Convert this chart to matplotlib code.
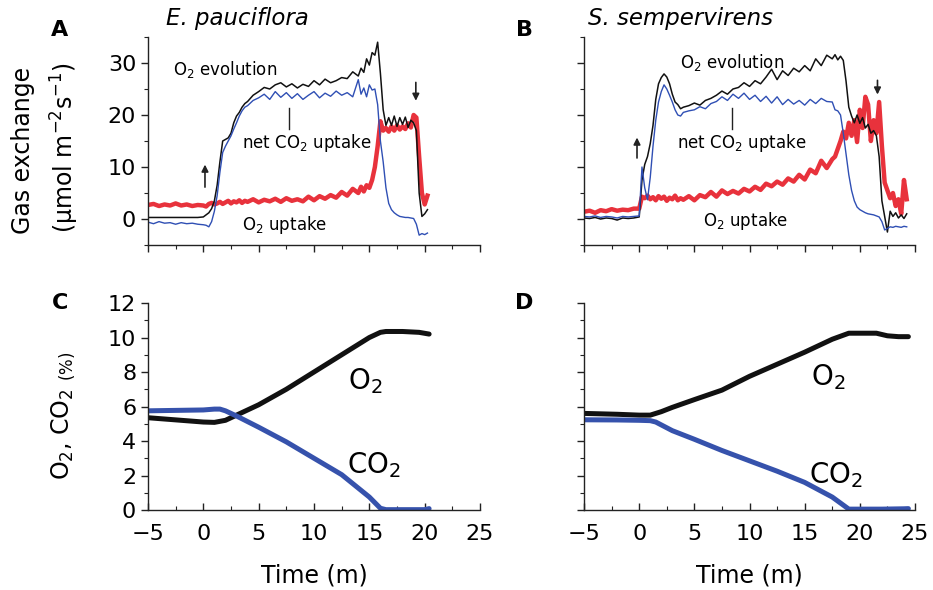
import matplotlib
matplotlib.use('Agg')
import matplotlib.pyplot as plt
from matplotlib.ticker import MultipleLocator

'''
Gas exchange traces (A, B) and chamber O2 / CO2 (C, D)
for E. pauciflora and S. sempervirens
'''

plt.rcParams['font.family'] = ['DejaVu Sans']
plt.rcParams['mathtext.fontset'] = 'dejavusans'
plt.rcParams['mathtext.default'] = 'regular'

BLACK = '#111111'
BLUE = '#2f4fb4'
RED = '#e8323c'
BLUE_THICK = '#3652ac'

# ---- panel A: E. pauciflora gas exchange ----
t_a = [-5, -4.5, -4, -3.5, -3, -2.5, -2, -1.5, -1, -0.5, 0,
       0.25, 0.5, 0.75, 1, 1.25, 1.5, 1.75, 2, 2.25, 2.5, 2.75, 3, 3.25, 3.5, 3.75, 4,
       4.5, 5, 5.5, 6, 6.5, 7, 7.5, 8, 8.5, 9, 9.5, 10, 10.5, 11, 11.5, 12, 12.5, 13, 13.5, 14,
       14.25, 14.5, 14.75, 15, 15.25, 15.5, 15.75, 16, 16.25, 16.5, 16.75, 17, 17.25, 17.5,
       17.75, 18, 18.25, 18.5, 18.75, 19, 19.25, 19.5, 19.75, 20, 20.25]
o2_evo_a = [0.3, 0.3, 0.3, 0.3, 0.3, 0.3, 0.3, 0.3, 0.3, 0.3, 0.4,
            0.8, 1.2, 2.0, 3.5, 6.5, 11.0, 15.0, 15.3, 15.6, 16.5, 18.5, 19.8, 20.5, 21.5, 22.2, 22.6,
            23.8, 24.5, 25.3, 25.0, 25.8, 26.2, 25.4, 26.0, 25.2, 25.9, 25.5, 26.6, 25.8, 26.9, 26.2,
            26.6, 27.2, 27.0, 28.3, 27.5,
            29.0, 28.2, 30.8, 29.6, 32.0, 31.5, 34.0, 28.0, 21.0, 18.0, 19.5, 18.0, 19.8, 17.8,
            19.5, 18.2, 19.6, 17.6, 19.0, 18.5, 17.0, 5.0, 0.5, 1.0, 1.8]
co2_net_a = [-0.6, -0.9, -0.5, -0.8, -0.7, -1.0, -0.7, -0.9, -0.8, -1.0, -1.1,
             -1.2, -1.5, -0.5, 1.5, 4.5, 9.0, 12.8, 14.0, 15.0, 16.0, 17.3, 18.5, 19.8, 20.8, 21.5, 21.8,
             22.8, 23.3, 24.0, 23.0, 24.5, 23.4, 24.3, 23.2, 24.1, 23.0, 23.8, 24.5, 23.3, 24.2, 23.6,
             24.6, 23.8, 24.3, 23.5, 26.8,
             24.0, 25.2, 23.5, 25.8, 24.8, 25.0, 22.0, 15.0, 11.0, 6.0, 3.0, 1.8, 1.2, 0.8,
             0.5, 0.4, 0.3, 0.3, 0.2, 0.1, -1.0, -3.1, -2.8, -3.0, -2.7]
o2_up_a = [2.7, 2.9, 2.5, 2.8, 2.6, 3.0, 2.6, 2.8, 2.5, 2.7, 2.6,
           2.4, 2.9, 3.1, 2.8, 3.0, 3.3, 2.9, 3.2, 3.5, 3.0, 3.4, 3.2, 3.6, 3.1, 3.5, 3.3,
           3.8, 3.2, 3.7, 3.4, 3.9, 3.3, 4.0, 3.5, 3.8, 3.4, 4.3, 3.6, 4.4, 3.9, 4.6,
           4.1, 5.2, 4.5, 5.8, 5.0,
           6.2, 5.3, 6.5, 6.0, 7.5, 10.0, 14.0, 18.8, 17.0, 17.5, 16.8, 17.8, 17.0, 18.0,
           17.2, 17.8, 17.3, 18.4, 17.6, 20.0, 19.5, 12.0, 5.0, 2.8, 4.5]

# ---- panel B: S. sempervirens gas exchange ----
t_b = [-5, -4.5, -4, -3.5, -3, -2.5, -2, -1.5, -1, -0.5, 0,
       0.25, 0.5, 0.75, 1, 1.25, 1.5, 1.75, 2, 2.25, 2.5, 2.75, 3, 3.25, 3.5, 3.75, 4,
       4.5, 5, 5.5, 6, 6.5, 7, 7.5, 8, 8.5, 9, 9.5, 10, 10.5, 11, 11.5, 12, 12.5, 13, 13.5,
       14, 14.5, 15, 15.5, 16, 16.5, 17, 17.5,
       17.75, 18, 18.25, 18.5, 18.75, 19, 19.25, 19.5, 19.75, 20, 20.25, 20.5, 20.75, 21,
       21.25, 21.5, 21.75, 22, 22.25, 22.5, 22.75, 23, 23.25, 23.5, 23.75, 24, 24.25]
o2_evo_b = [0.2, 0.1, 0.3, 0.0, 0.2, 0.1, -0.2, 0.2, 0.1, 0.2, 0.4,
            7.5, 10.5, 12.0, 14.5, 18.0, 23.0, 26.0, 27.2, 27.9, 27.3, 26.0, 24.0, 22.5, 22.0, 21.2, 21.5,
            21.8, 22.3, 21.9, 22.8, 23.2, 23.8, 24.6, 24.0, 25.0, 25.3, 26.2, 25.5, 26.6, 26.0, 27.3,
            28.8, 26.8, 28.5, 27.6, 29.0, 28.3, 29.5, 28.5, 30.8, 29.5, 31.5, 30.8,
            31.6, 30.6, 31.3, 30.5, 26.5, 21.5, 19.8, 18.5, 20.0, 18.4, 19.5, 17.5, 18.2, 16.5,
            17.0, 16.0, 12.0, 3.5, 0.5, -2.5, 1.5, 0.5, 1.2, 0.2, 0.8, 0.1, 1.0]
co2_net_b = [0.5, 0.4, 0.6, 0.3, 0.5, 0.4, 0.2, 0.5, 0.4, 0.5, 0.6,
             10.0, 6.0, 3.7, 8.0, 14.0, 19.0, 22.5, 24.5, 25.8, 25.0, 23.8, 22.5, 21.0, 20.0, 19.8, 20.5,
             20.8, 21.0, 21.6, 21.2, 22.2, 22.6, 23.5, 22.8, 24.0, 23.2, 24.2, 23.0, 23.8, 22.6, 23.6,
             22.3, 23.5, 22.0, 23.0, 22.1, 22.8, 21.9, 23.0, 22.2, 23.2, 22.6, 22.5,
             21.0, 20.8, 20.0, 16.5, 12.5, 8.5, 5.5, 3.5, 2.3, 1.8, 1.5, 1.2, 1.0, 0.9,
             0.8, 0.6, 0.4, -0.5, -2.1, -1.8, -1.5, -1.6, -1.4, -1.5, -1.6, -1.4, -1.5]
o2_up_b = [1.4, 1.6, 1.2, 1.7, 1.5, 1.9, 1.6, 1.8, 1.7, 2.0, 2.0,
           4.3, 4.0, 4.5, 3.8, 4.2, 3.6, 4.4, 3.9, 4.3, 3.5, 4.1, 3.8, 4.5, 3.6, 4.0, 3.7,
           4.4, 3.6, 4.6, 4.2, 5.2, 4.3, 5.5, 4.8, 5.4, 4.9, 5.8, 5.3, 6.2, 5.6, 6.8,
           6.3, 7.2, 6.6, 7.8, 7.2, 8.5, 7.6, 9.5, 8.8, 11.2, 9.8, 11.5,
           12.0, 13.5, 15.0, 16.8, 15.5, 18.5, 16.0, 19.0, 14.8, 21.0, 17.5, 23.5, 22.0, 15.0,
           19.0, 16.5, 22.5, 14.0, 7.0, 5.5, 4.0, 5.0, 2.5, 3.8, 1.0, 7.5, 3.8]

# ---- panels C, D: chamber O2 and CO2 (%) ----
t_c_o2 = [-5, -2, 0, 1, 2, 3, 5, 7.5, 10, 12.5, 15, 16, 16.5, 18, 19.5, 20.4]
o2_c = [5.35, 5.2, 5.1, 5.08, 5.2, 5.5, 6.1, 7.0, 8.0, 9.0, 10.0, 10.3, 10.35, 10.35, 10.3, 10.2]
t_c_co2 = [-5, -2, 0, 1, 1.5, 2, 3, 5, 7.5, 10, 12.5, 15, 16, 16.5, 18, 20, 20.4]
co2_c = [5.75, 5.78, 5.8, 5.85, 5.85, 5.75, 5.45, 4.8, 3.95, 3.0, 2.05, 0.75, 0.1, 0.02, 0.02, 0.02, 0.08]

t_d_o2 = [-5, -2, 0, 1, 2, 3, 5, 7.5, 10, 12.5, 15, 17.5, 19, 20, 21.5, 22.5, 23.5, 24.4]
o2_d = [5.6, 5.55, 5.5, 5.5, 5.7, 5.95, 6.4, 6.95, 7.75, 8.45, 9.15, 9.9, 10.25, 10.25, 10.25, 10.1, 10.05, 10.05]
t_d_co2 = [-5, -2, 0, 1, 1.5, 3, 5, 7.5, 10, 12.5, 15, 17.5, 19, 20, 22, 24, 24.4]
co2_d = [5.23, 5.22, 5.2, 5.18, 5.1, 4.6, 4.1, 3.45, 2.85, 2.25, 1.6, 0.75, 0.05, 0.05, 0.05, 0.07, 0.08]

x_ticks = [-5, 0, 5, 10, 15, 20, 25]

fig = plt.figure(figsize=(9.33, 5.9), dpi=100)
ax_a = fig.add_axes([0.1586, 0.5847, 0.3559, 0.3526])
ax_b = fig.add_axes([0.626, 0.5847, 0.3547, 0.3526])
ax_c = fig.add_axes([0.1586, 0.1356, 0.3559, 0.3508])
ax_d = fig.add_axes([0.626, 0.1356, 0.3547, 0.3508])


def style(ax, top):
    for s in ['top', 'right']:
        ax.spines[s].set_visible(False)
    for s in ['left', 'bottom']:
        ax.spines[s].set_linewidth(1.0)
        ax.spines[s].set_color('#222222')
    ax.set_xlim(-5, 25)
    ax.set_xticks(x_ticks)
    ax.xaxis.set_minor_locator(MultipleLocator(2.5))
    ax.tick_params(axis='both', which='major', length=5, width=1, labelsize=16, direction='out', color='#222222')
    ax.tick_params(axis='both', which='minor', length=3, width=0.8, direction='out', color='#222222')
    if top:
        ax.set_ylim(-5, 35)
        ax.set_yticks([0, 10, 20, 30])
        ax.yaxis.set_minor_locator(MultipleLocator(5))
        ax.tick_params(axis='x', which='both', labelbottom=False)
    else:
        ax.set_ylim(0, 12)
        ax.set_yticks([0, 2, 4, 6, 8, 10, 12])
        ax.yaxis.set_minor_locator(MultipleLocator(1))
        ax.tick_params(axis='x', which='both', direction='in')
        ax.tick_params(axis='x', which='major', pad=10)


for ax in (ax_a, ax_b):
    style(ax, True)
for ax in (ax_c, ax_d):
    style(ax, False)

# top panels: traces
ax_a.plot(t_a, o2_up_a, color=RED, lw=3.2, solid_joinstyle='round')
ax_a.plot(t_a, o2_evo_a, color=BLACK, lw=1.1)
ax_a.plot(t_a, co2_net_a, color=BLUE, lw=1.0)
ax_b.plot(t_b, o2_up_b, color=RED, lw=3.2, solid_joinstyle='round')
ax_b.plot(t_b, o2_evo_b, color=BLACK, lw=1.1)
ax_b.plot(t_b, co2_net_b, color=BLUE, lw=1.0)
ax_b.tick_params(axis='y', labelleft=False)

arrow = dict(arrowstyle='-|>', color='#222222', lw=1.2, mutation_scale=10)
ax_a.annotate('', xy=(0.15, 11.0), xytext=(0.15, 5.6), arrowprops=arrow)
ax_a.annotate('', xy=(19.2, 22.2), xytext=(19.2, 26.8), arrowprops=arrow)
ax_b.annotate('', xy=(-0.2, 16.2), xytext=(-0.2, 11.2), arrowprops=arrow)
ax_b.annotate('', xy=(21.6, 23.4), xytext=(21.6, 27.2), arrowprops=arrow)

ax_a.text(-2.75, 28.8, 'O$_2$ evolution', fontsize=12, va='center')
ax_a.text(3.5, 14.6, 'net CO$_2$ uptake', fontsize=12, va='center')
ax_a.plot([7.7, 7.7], [17.3, 21.4], color='#222222', lw=1)
ax_a.text(3.5, -1.2, 'O$_2$ uptake', fontsize=12, va='center')

ax_b.text(3.7, 30.1, 'O$_2$ evolution', fontsize=12, va='center')
ax_b.text(3.4, 14.6, 'net CO$_2$ uptake', fontsize=12, va='center')
ax_b.plot([8.4, 8.4], [17.3, 21.4], color='#222222', lw=1)
ax_b.text(5.8, -0.4, 'O$_2$ uptake', fontsize=12, va='center')

# bottom panels: chamber concentrations
ax_c.plot(t_c_o2, o2_c, color=BLACK, lw=3.6, solid_capstyle='round')
ax_c.plot(t_c_co2, co2_c, color=BLUE_THICK, lw=3.6, solid_capstyle='round')
ax_d.plot(t_d_o2, o2_d, color=BLACK, lw=3.6, solid_capstyle='round')
ax_d.plot(t_d_co2, co2_d, color=BLUE_THICK, lw=3.6, solid_capstyle='round')
ax_d.tick_params(axis='y', labelleft=False)

ax_c.text(13.1, 7.5, 'O$_2$', fontsize=20, va='center')
ax_c.text(13.0, 2.6, 'CO$_2$', fontsize=20, va='center')
ax_d.text(15.6, 7.7, 'O$_2$', fontsize=20, va='center')
ax_d.text(15.4, 2.0, 'CO$_2$', fontsize=20, va='center')

ax_c.set_xlabel('Time (m)', fontsize=17, labelpad=14)
ax_d.set_xlabel('Time (m)', fontsize=17, labelpad=14)

# panel letters, titles, y labels
fig.text(0.064, 0.949, 'A', fontsize=16, fontweight='bold', ha='center', va='center')
fig.text(0.562, 0.949, 'B', fontsize=16, fontweight='bold', ha='center', va='center')
fig.text(0.064, 0.486, 'C', fontsize=16, fontweight='bold', ha='center', va='center')
fig.text(0.562, 0.486, 'D', fontsize=16, fontweight='bold', ha='center', va='center')
fig.text(0.254, 0.969, 'E. pauciflora', fontsize=16.5, style='italic', ha='center', va='center')
fig.text(0.729, 0.969, 'S. sempervirens', fontsize=16.5, style='italic', ha='center', va='center')

fig.text(0.025, 0.745, 'Gas exchange', fontsize=17, rotation=90, ha='center', va='center')
fig.text(0.070, 0.75, '($\\mu$mol m$^{-2}$s$^{-1}$)', fontsize=17, rotation=90, ha='center', va='center')
fig.text(0.068, 0.296, 'O$_2$, CO$_2$ $_{(\\%)}$', fontsize=17, rotation=90, ha='center', va='center')

fig.savefig('out.png', dpi=100)
